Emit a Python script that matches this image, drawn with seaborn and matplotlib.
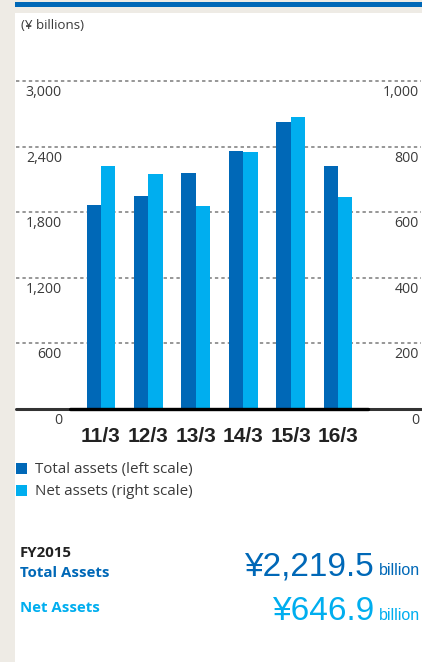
import matplotlib
matplotlib.use("Agg")
import matplotlib.pyplot as plt
import matplotlib.transforms as mtransforms
from matplotlib.patches import Rectangle
import pandas as pd
import seaborn as sns

# ---- data ----
years = ["11/3", "12/3", "13/3", "14/3", "15/3", "16/3"]
total_assets = [1866, 1949, 2159, 2360, 2626, 2219.5]   # left scale
net_assets = [742, 716, 619, 784, 890, 646.9]            # right scale
left_ticks = [0, 600, 1200, 1800, 2400, 3000]
left_tick_labels = ["0", "600", "1,200", "1,800", "2,400", "3,000"]
right_ticks = [0, 200, 400, 600, 800, 1000]
right_tick_labels = ["0", "200", "400", "600", "800", "1,000"]
series_names = ["Total assets (left scale)", "Net assets (right scale)"]

DARK = "#0068b7"
LIGHT = "#00aeef"
BEIGE = "#eeebe5"
W, H = 422, 662

sns.set_theme(style="white")
plt.rcParams["font.family"] = ["Open Sans", "DejaVu Sans"]

rows = []
for y, t, n in zip(years, total_assets, net_assets):
    rows.append({"year": y, "series": series_names[0], "left": t, "right": float("nan")})
    rows.append({"year": y, "series": series_names[1], "left": float("nan"), "right": n})
df = pd.DataFrame(rows)

fig = plt.figure(figsize=(W / 100, H / 100), dpi=100)
fig.patch.set_facecolor(BEIGE)


def px_rect(x0, y0, x1, y1, color, z=0):
    fig.patches.append(Rectangle((x0 / W, 1 - y1 / H), (x1 - x0) / W, (y1 - y0) / H,
                                 transform=fig.transFigure, facecolor=color,
                                 edgecolor="none", zorder=z))


px_rect(15, 13, W, H, "white", -2)
px_rect(15, 2, W, 7, DARK, -1)

# axes geometry (pixels)
ax_left, ax_right, ax_top, ax_bottom = 16, 421, 60, 409
ax = fig.add_axes([ax_left / W, 1 - ax_bottom / H, (ax_right - ax_left) / W, (ax_bottom - ax_top) / H])
ax.set_facecolor("none")
scale = 0.1093  # px per unit on left
ytop = (ax_bottom - ax_top) / scale

sns.barplot(data=df, x="year", y="left", hue="series", hue_order=series_names,
            palette=[DARK, LIGHT], width=0.61, errorbar=None, legend=False,
            saturation=1, linewidth=0, ax=ax)
ax2 = ax.twinx()
sns.barplot(data=df, x="year", y="right", hue="series", hue_order=series_names,
            palette=[DARK, LIGHT], width=0.61, errorbar=None, legend=False,
            saturation=1, linewidth=0, ax=ax2)

ax.set_ylim(0, ytop)
ax2.set_ylim(0, ytop / 3)
step = 47.4
x0px = 101
ax.set_xlim(-(x0px - ax_left) / step, 5 + (ax_right - 338) / step)

for a in (ax, ax2):
    for s in a.spines.values():
        s.set_visible(False)
    a.set_yticks([])
    a.set_ylabel("")
    a.set_xlabel("")
    a.grid(False)
ax2.set_facecolor("none")

# grid lines
for v in left_ticks[1:]:
    ax.axhline(v, color="#7a7a7a", lw=1.1, ls=(0, (2.2, 2.0)), zorder=0.5)
ax2.axhline(0, color="#333333", lw=2.2, zorder=3, clip_on=False)
ax2.plot([-(x0px - 70) / step, (368 - x0px) / step], [0, 0], color="black", lw=2.4,
         zorder=3.1, clip_on=False)

# y tick labels (below grid lines)
trans_l = mtransforms.offset_copy(mtransforms.blended_transform_factory(ax.transAxes, ax.transData),
                                  fig=fig, y=-15, units="dots")
for v, lab in zip(left_ticks, left_tick_labels):
    ax.text((62 - ax_left) / (ax_right - ax_left), v, lab, transform=trans_l,
            ha="right", va="baseline", fontsize=10.2, color="#3a3a3a")
trans_r = mtransforms.offset_copy(mtransforms.blended_transform_factory(ax2.transAxes, ax2.transData),
                                  fig=fig, y=-15, units="dots")
for v, lab in zip(right_ticks, right_tick_labels):
    ax2.text((419 - ax_left) / (ax_right - ax_left), v, lab, transform=trans_r,
             ha="right", va="baseline", fontsize=10.2, color="#3a3a3a")

# x tick labels
ax.set_xticks(range(len(years)))
ax.set_xticklabels(years)
ax.tick_params(axis="x", length=0, pad=23.5)
ax2.tick_params(axis="x", length=0)
for i, t in enumerate(ax.get_xticklabels()):
    t.set_family(["Liberation Sans Narrow", "Liberation Sans", "DejaVu Sans"])
    t.set_fontsize(15)
    t.set_va("baseline")
    t.set_color("#222222")
    t.set_fontweight("bold")

# unit label
fig.text(21 / W, 1 - 29 / H, "(¥ billions)", fontsize=9.6, color="#3a3a3a", va="baseline")

# legend
for i, (name, col) in enumerate(zip(series_names, [DARK, LIGHT])):
    yc = 468.5 + i * 21.5
    px_rect(16, yc - 5.5, 27, yc + 5.5, col, 5)
    fig.text(35 / W, 1 - (yc + 5) / H, name, fontsize=10.9, color="#3a3a3a", va="baseline")

# summary
fig.text(20 / W, 1 - 557 / H, "FY2015", fontsize=10.8, fontweight="bold", color="#222222", va="baseline")
fig.text(20 / W, 1 - 577 / H, "Total Assets", fontsize=10.8, fontweight="bold", color=DARK, va="baseline")
fig.text(20 / W, 1 - 612 / H, "Net Assets", fontsize=10.8, fontweight="bold", color=LIGHT, va="baseline")
narrow = ["Liberation Sans Narrow", "Liberation Sans", "DejaVu Sans"]
fig.text(374 / W, 1 - 575 / H, "¥2,219.5", family=narrow, fontsize=24, color=DARK, ha="right", va="baseline")
fig.text(379 / W, 1 - 575 / H, "billion", family=narrow, fontsize=11.5, color=DARK, ha="left", va="baseline")
fig.text(374 / W, 1 - 620 / H, "¥646.9", family=narrow, fontsize=24, color=LIGHT, ha="right", va="baseline")
fig.text(379 / W, 1 - 620 / H, "billion", family=narrow, fontsize=11.5, color=LIGHT, ha="left", va="baseline")

fig.savefig("out.png", dpi=100, facecolor=fig.get_facecolor())
